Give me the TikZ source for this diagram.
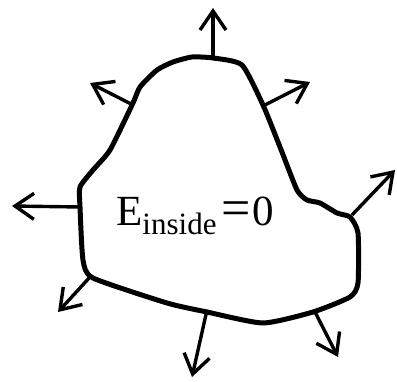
\documentclass[tikz,border=0pt]{standalone}
\usepackage{fontspec}
\setmainfont{Liberation Serif}
\usetikzlibrary{arrows.meta}
\begin{document}
\begin{tikzpicture}[x=1pt,y=-1pt,
  outline/.style={line width=5pt,line join=round},
  fieldarrow/.style={line width=3.4pt,-{Straight Barb[length=19pt,width=26pt,line width=3.4pt]}}]
\useasboundingbox (0,0) rectangle (397,382);
\draw[outline] plot[smooth cycle,tension=0.35] coordinates {
 (192,57) (213,58) (242,65) (263,105) (280,147) (297,190) (307,200) (320,203)
 (337,213) (350,217) (358,233) (358,283) (350,297) (313,312) (263,323)
 (207,312) (167,303) (93,278) (83,260) (80,207) (80,187) (93,170) (110,150)
 (133,103) (140,87) (157,70) (173,62)};
\coordinate (s1) at (213,58);  \coordinate (t1) at (213,8);
\coordinate (s2) at (133,105); \coordinate (t2) at (90,83);
\coordinate (s3) at (263,106); \coordinate (t3) at (310,82);
\coordinate (s4) at (352,215); \coordinate (t4) at (395,170);
\coordinate (s5) at (80,207);  \coordinate (t5) at (12,206);
\coordinate (s6) at (90,277);  \coordinate (t6) at (58,312);
\coordinate (s7) at (207,310); \coordinate (t7) at (192,377);
\coordinate (s8) at (315,312); \coordinate (t8) at (338,357);
\foreach \i in {1,...,8} \draw[fieldarrow] (s\i) -- (t\i);
\node[anchor=base west,inner sep=0pt] (lbl) at (116,226)
 {\fontsize{43}{43}\selectfont E\raisebox{-9pt}{\fontsize{31}{31}\selectfont inside}\kern5pt{\fontsize{52}{52}\selectfont =}\kern2pt0};
\end{tikzpicture}
\end{document}
